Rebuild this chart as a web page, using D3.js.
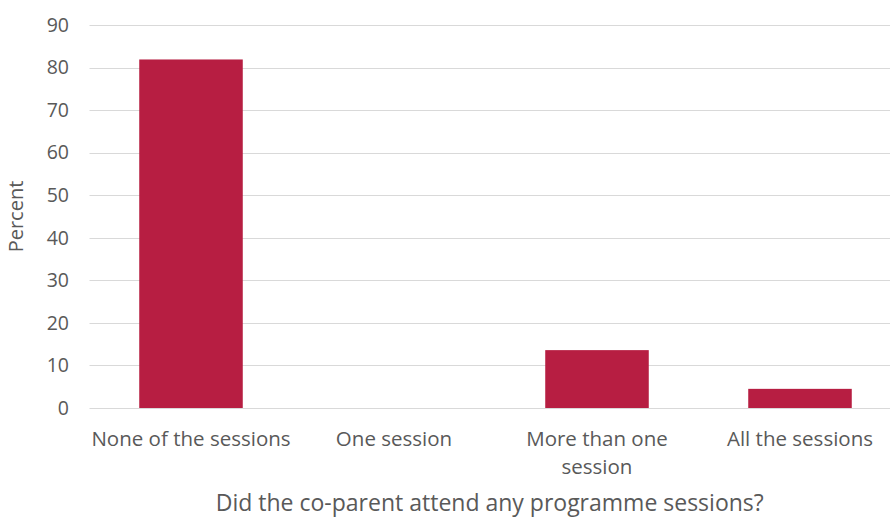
<!DOCTYPE html>
<html>
<head>
<meta charset="utf-8">
<script src="https://cdn.jsdelivr.net/npm/d3@7"></script>
<style>
  html, body { margin: 0; padding: 0; background: #fff; }
  svg { display: block; font-family: "Open Sans", "Noto Sans", sans-serif; }
</style>
</head>
<body>
<svg id="chart" width="890" height="519"></svg>
<script>
// Attendance of the co-parent at programme sessions (percent of respondents)
const categories = ["None of the sessions", "One session", "More than one session", "All the sessions"];
const categoryLines = [["None of the sessions"], ["One session"], ["More than one", "session"], ["All the sessions"]];
const percentValues = [81.9, 0, 13.6, 4.5];
const yTicks = [0, 10, 20, 30, 40, 50, 60, 70, 80, 90];
const yTitle = "Percent";
const xTitle = "Did the co-parent attend any programme sessions?";

const svg = d3.select("#chart");
const W = 890, H = 519;
const plotLeft = 89.5, plotRight = 901.5, plotTop = 25, plotBottom = 408;

const x = d3.scaleBand()
  .domain(categories)
  .range([plotLeft, plotRight])
  .paddingInner(0.49)
  .paddingOuter(0.245);

const y = d3.scaleLinear().domain([0, 90]).range([plotBottom, plotTop]);

const textColor = "#595959";

// horizontal gridlines
svg.append("g")
  .selectAll("line")
  .data(yTicks)
  .join("line")
  .attr("x1", plotLeft)
  .attr("x2", W)
  .attr("y1", d => Math.round(y(d)) + 0.5)
  .attr("y2", d => Math.round(y(d)) + 0.5)
  .attr("stroke", "#d9d9d9")
  .attr("stroke-width", 1);

// y tick labels
svg.append("g")
  .selectAll("text")
  .data(yTicks)
  .join("text")
  .attr("x", 69)
  .attr("y", d => y(d))
  .attr("dy", "0.35em")
  .attr("text-anchor", "end")
  .attr("fill", textColor)
  .attr("font-size", 19.5)
  .text(d => d);

// bars
svg.append("g")
  .selectAll("rect")
  .data(categories.map((c, i) => ({ c, v: percentValues[i] })))
  .join("rect")
  .attr("x", d => x(d.c))
  .attr("width", x.bandwidth())
  .attr("y", d => y(d.v))
  .attr("height", d => y(0) - y(d.v))
  .attr("fill", "#b71e42");

// category labels
const catG = svg.append("g");
categories.forEach((c, i) => {
  const t = catG.append("text")
    .attr("x", x(c) + x.bandwidth() / 2)
    .attr("y", 446)
    .attr("text-anchor", "middle")
    .attr("fill", textColor)
    .attr("font-size", 20.5);
  categoryLines[i].forEach((line, j) => {
    t.append("tspan")
      .attr("x", x(c) + x.bandwidth() / 2)
      .attr("dy", j === 0 ? 0 : 28)
      .text(line);
  });
});

// axis titles
svg.append("text")
  .attr("transform", `translate(23, ${(plotTop + plotBottom) / 2}) rotate(-90)`)
  .attr("text-anchor", "middle")
  .attr("fill", textColor)
  .attr("font-size", 20)
  .text(yTitle);

svg.append("text")
  .attr("x", (plotLeft + W) / 2)
  .attr("y", 511)
  .attr("text-anchor", "middle")
  .attr("fill", textColor)
  .attr("font-size", 23)
  .text(xTitle);
</script>
</body>
</html>
